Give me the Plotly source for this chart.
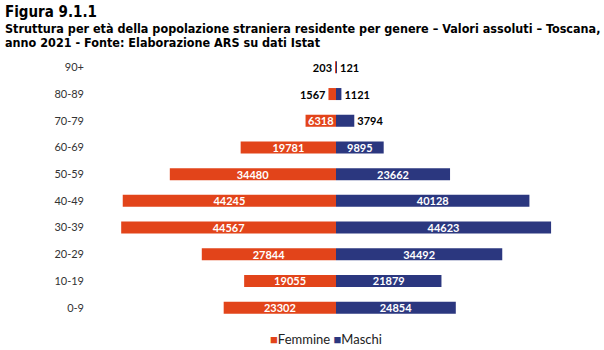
import plotly.graph_objects as go

ages = ["0-9", "10-19", "20-29", "30-39", "40-49", "50-59", "60-69", "70-79", "80-89", "90+"]
femmine = [23302, 19055, 27844, 44567, 44245, 34480, 19781, 6318, 1567, 203]
maschi = [24854, 21879, 34492, 44623, 40128, 23662, 9895, 3794, 1121, 121]
series_names = ["Femmine", "Maschi"]

ORANGE = "#E2441A"
NAVY = "#2B377F"
THRESH = 5000

def pos(vals):
    return ["inside" if v >= THRESH else "outside" for v in vals]

def cols(vals):
    return ["white" if v >= THRESH else "black" for v in vals]

LBL_FONT = "Lato"

fig = go.Figure()
fig.add_trace(go.Bar(
    y=ages, x=[-v for v in femmine], orientation="h", name=series_names[0],
    marker=dict(color=ORANGE, line=dict(width=0)),
    text=[str(v) for v in femmine], textposition=pos(femmine),
    insidetextanchor="middle",
    textfont=dict(family=LBL_FONT, size=11, color=cols(femmine), weight="bold"),
    cliponaxis=False, hoverinfo="skip",
))
fig.add_trace(go.Bar(
    y=ages, x=maschi, orientation="h", name=series_names[1],
    marker=dict(color=NAVY, line=dict(width=0)),
    text=[str(v) for v in maschi], textposition=pos(maschi),
    insidetextanchor="middle",
    textfont=dict(family=LBL_FONT, size=11, color=cols(maschi), weight="bold"),
    cliponaxis=False, hoverinfo="skip",
))

W, H = 604, 350
ML, MR, MT, MB = 95, 27, 54, 29
plot_h = H - MT - MB
plot_w = W - ML - MR

def px(x, y):
    """pixel (from top-left) to paper coords"""
    return (x - ML) / plot_w, (H - y - MB) / plot_h

TITLE_FONT = "DejaVu Sans Condensed"
annots = []
for txt, y, size in [
    ("<b>Figura 9.1.1</b>", 12, 15),
    ("<b>Struttura per età della popolazione straniera residente per genere – Valori assoluti – Toscana,</b>", 28.5, 12.5),
    ("<b>anno 2021 - Fonte: Elaborazione ARS su dati Istat</b>", 43, 12.5),
]:
    ax, ay = px(3, y)
    annots.append(dict(text=txt, x=ax, y=ay, xref="paper", yref="paper", showarrow=False,
                       xanchor="left", yanchor="middle",
                       font=dict(family=TITLE_FONT, size=size, color="black")))

# legend drawn as text
lx, ly = px(326, 339)
legend_txt = (f"<span style='color:{ORANGE}'>■</span>{series_names[0]} "
              f"<span style='color:{NAVY}'>■</span>{series_names[1]}")
annots.append(dict(text=legend_txt, x=lx, y=ly, xref="paper", yref="paper", showarrow=False,
                   xanchor="center", yanchor="middle",
                   font=dict(family=LBL_FONT, size=13, color="#222")))

fig.update_layout(
    width=W, height=H,
    margin=dict(l=ML, r=MR, t=MT, b=MB),
    paper_bgcolor="white", plot_bgcolor="white",
    barmode="relative", bargap=0.55,
    uniformtext=dict(minsize=11, mode="show"),
    showlegend=False,
    xaxis=dict(range=[-50000, 50000], visible=False, fixedrange=True),
    yaxis=dict(categoryorder="array", categoryarray=ages, showgrid=False, showline=False,
               ticks="", tickfont=dict(family=LBL_FONT, size=11, color="#333"),
               ticklabelstandoff=10),
    annotations=annots,
)

fig.write_html("out.html")
